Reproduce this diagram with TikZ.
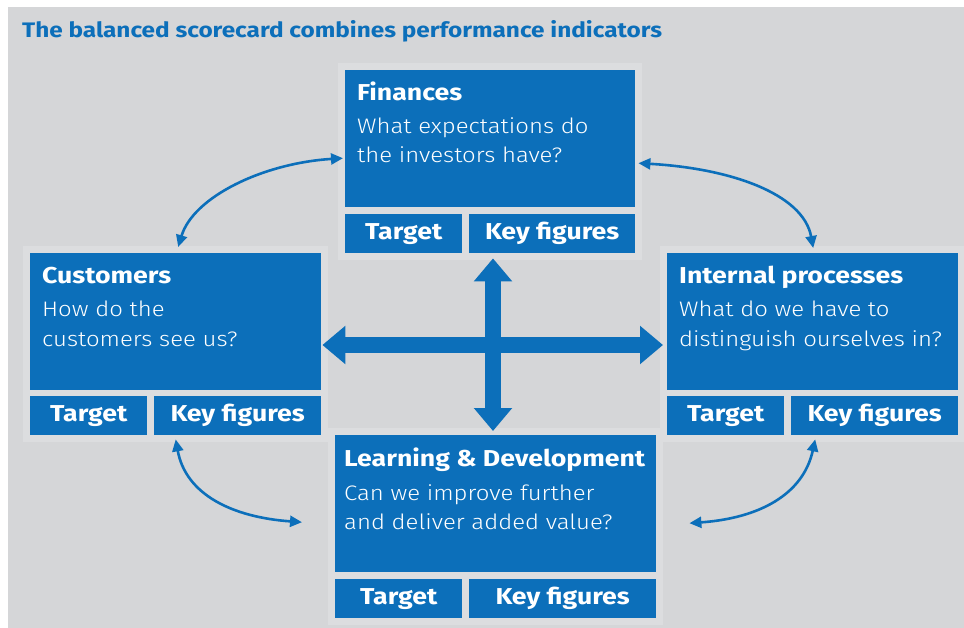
\documentclass[tikz,border=0pt]{standalone}
\usepackage{fontspec}
\setmainfont{Fira Sans}[FakeStretch=1.16]
\newfontfamily\lightfont{Fira Sans Light}[FakeStretch=1.14]
\usetikzlibrary{arrows.meta,calc,backgrounds}
\definecolor{sbblue}{HTML}{0C6FBA}
\definecolor{sbback}{HTML}{D5D6D8}
\definecolor{sbhalo}{HTML}{DCDDDF}
\begin{document}
\begin{tikzpicture}[x=1pt,y=-1pt,
  panel/.style={fill=sbblue, draw=none, inner sep=0pt, anchor=north west,
    minimum height=137pt},
  tagbox/.style={fill=sbblue, draw=none, inner sep=0pt, anchor=north west,
    minimum height=39pt, text=white, font=\bfseries\fontsize{23}{26}\selectfont},
  headtext/.style={anchor=base west, inner sep=0pt, text=white,
    font=\bfseries\fontsize{23}{26}\selectfont},
  bodytext/.style={anchor=base west, inner sep=0pt, text=white,
    font=\lightfont\fontsize{21}{26}\selectfont},
  bigarrow/.style={draw=sbblue, line width=16pt,
    {Triangle[width=37pt,length=23pt]}-{Triangle[width=37pt,length=23pt]}},
  thinarrow/.style={draw=sbblue, line width=2.6pt,
    {Triangle[width=11pt,length=12pt]}-{Triangle[width=11pt,length=12pt]}},
  halo/.style={fill=sbhalo}
]
\useasboundingbox (0,0) rectangle (964,628);

% title
\node[anchor=base west, inner sep=0pt, text=sbblue,
  font=\bfseries\fontsize{21}{25}\selectfont] (title) at (22,38)
  {The balanced scorecard combines performance indicators};

% Finances
\node[panel, minimum width=290pt] (fin) at (345,70) {};
\node[tagbox, minimum width=117pt] (ftgt) at (345,214) {Target};
\node[tagbox, minimum width=166pt] (fkey) at (469,214) {Key figures};
\node[headtext] (finh) at (357,101) {Finances};
\node[bodytext] (finb1) at (357,134) {What expectations do};
\node[bodytext] (finb2) at (357,163) {the investors have?};

% Customers
\node[panel, minimum width=291pt] (cust) at (30,253) {};
\node[tagbox, minimum width=117pt] (ctgt) at (30,396) {Target};
\node[tagbox, minimum width=167pt] (ckey) at (154,396) {Key figures};
\node[headtext] (custh) at (42,284) {Customers};
\node[bodytext] (custb1) at (42,317) {How do the};
\node[bodytext] (custb2) at (42,346) {customers see us?};

% Internal processes
\node[panel, minimum width=291pt] (int) at (667,253) {};
\node[tagbox, minimum width=117pt] (itgt) at (667,396) {Target};
\node[tagbox, minimum width=167pt] (ikey) at (791,396) {Key figures};
\node[headtext] (inth) at (679,284) {Internal processes};
\node[bodytext] (intb1) at (679,317) {What do we have to};
\node[bodytext] (intb2) at (679,346) {distinguish ourselves in?};

% Learning & Development
\node[panel, minimum width=321pt] (ld) at (335,435) {};
\node[tagbox, minimum width=127pt] (ltgt) at (335,579) {Target};
\node[tagbox, minimum width=187pt] (lkey) at (469,579) {Key figures};
\node[headtext] (ldh) at (344,466) {Learning \& Development};
\node[bodytext] (ldb1) at (344,500) {Can we improve further};
\node[bodytext] (ldb2) at (344,529) {and deliver added value?};

% backdrop and lighter surrounds of the four groups
\begin{scope}[on background layer]
  \fill[sbback] (8,7) rectangle (964,628);
  \foreach \m/\k in {fin/fkey, cust/ckey, int/ikey, ld/lkey}{
    \fill[halo] ([shift={(-7pt,7pt)}]\m.north west)
      rectangle ([shift={(7pt,-7pt)}]\k.south east);
  }
\end{scope}

% central cross
\coordinate (cx) at (493,345);
\draw[bigarrow] ([xshift=1pt]cust.east |- cx) -- ([xshift=-4pt]int.west |- cx);
\draw[bigarrow] ([yshift=-5pt]cx |- fkey.south) -- ([yshift=4pt]cx |- ld.north);

% curved links between the perspectives
\draw[thinarrow] ([shift={(-2pt,-19.5pt)}]fin.west)
  .. controls +(-80,5) and +(15,-50) .. ([shift={(2.5pt,6pt)}]cust.north);
\draw[thinarrow] ([shift={(3pt,-24.5pt)}]fin.east)
  .. controls +(90,5) and +(-10,-55) .. ([shift={(0.5pt,5pt)}]int.north);
\draw[thinarrow] ([yshift=-4pt]cust.center |- ckey.south)
  .. controls +(10,55) and +(-70,-5) .. ([shift={(-33pt,-18.5pt)}]ld.west);
\draw[thinarrow] ([shift={(2.5pt,-4pt)}]int.center |- ikey.south)
  .. controls +(-12,55) and +(70,-5) .. ([shift={(33pt,-19.5pt)}]ld.east);
\end{tikzpicture}
\end{document}
